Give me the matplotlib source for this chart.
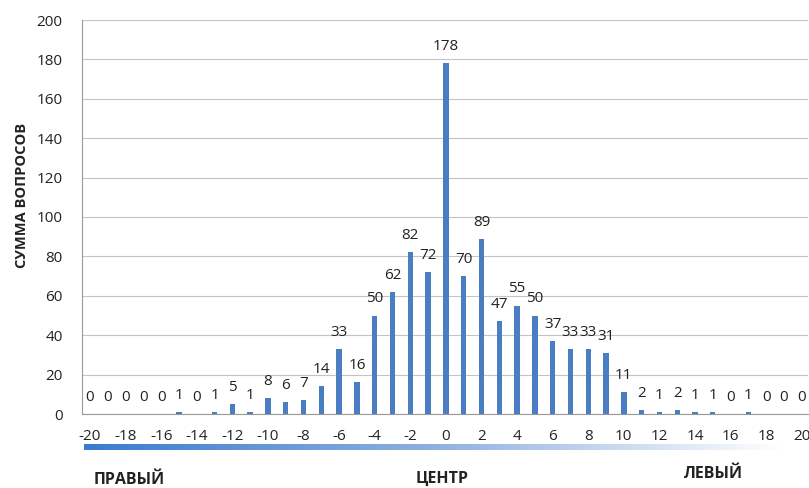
import numpy as np
import matplotlib
matplotlib.use('Agg')
import matplotlib.pyplot as plt
from matplotlib.colors import LinearSegmentedColormap

plt.rcParams['font.family'] = ['Open Sans', 'DejaVu Sans']
plt.rcParams['axes.unicode_minus'] = False

positions = list(range(-20, 21))
counts = [0, 0, 0, 0, 0, 1, 0, 1, 5, 1, 8, 6, 7, 14, 33, 16, 50, 62, 82, 72,
          178, 70, 89, 47, 55, 50, 37, 33, 33, 31, 11, 2, 1, 2, 1, 1, 0, 1, 0, 0, 0]
xticks = list(range(-20, 21, 2))
yticks = list(range(0, 201, 20))
scale_labels = ['ПРАВЫЙ', 'ЦЕНТР', 'ЛЕВЫЙ']

fig = plt.figure(figsize=(8.09, 4.88), dpi=100)
ax = fig.add_axes([82/809, 1 - 414/488, 726/809, 394/488])

ax.bar(positions, counts, width=0.3, color='#4a7ec2', zorder=3)
for x, v in zip(positions, counts):
    ax.annotate(str(v), (x, v), xytext=(0, 12), textcoords='offset points',
                ha='center', va='center', fontsize=11, color='#222222')

ax.set_xlim(-20.45, 20.35)
ax.set_ylim(0, 200)
ax.set_xticks(xticks)
ax.set_yticks(yticks)
ax.tick_params(axis='x', length=0, pad=11, labelsize=11, colors='#222222')
ax.tick_params(axis='y', length=0, pad=14, labelsize=11, colors='#222222')
ax.yaxis.grid(True, color='#c4c4c4', linewidth=0.8, zorder=0)
for s in ['top', 'right']:
    ax.spines[s].set_visible(False)
for s in ['left', 'bottom']:
    ax.spines[s].set_color('#999999')
    ax.spines[s].set_linewidth(0.8)

fig.text(22/809, 1 - 195/488, 'СУММА ВОПРОСОВ', rotation=90, ha='center',
         va='center', fontsize=10.5, fontweight='bold', color='#222222')

# gradient strip under the axis labels
gax = fig.add_axes([84/809, 1 - 450/488, 700/809, 6/488])
cmap = LinearSegmentedColormap.from_list('g', ['#3a7bcf', '#8fb0e0', '#ffffff'])
gax.imshow(np.linspace(0, 1, 256).reshape(1, -1), aspect='auto', cmap=cmap)
gax.axis('off')

fig.text(129/809, 1 - 480/488, scale_labels[0], ha='center', va='center',
         fontsize=11.5, fontweight='bold', color='#222222')
fig.text(442/809, 1 - 479/488, scale_labels[1], ha='center', va='center',
         fontsize=11.5, fontweight='bold', color='#222222')
fig.text(714/809, 1 - 474/488, scale_labels[2], ha='center', va='center',
         fontsize=11.5, fontweight='bold', color='#222222')

fig.savefig('out.png', dpi=100)
